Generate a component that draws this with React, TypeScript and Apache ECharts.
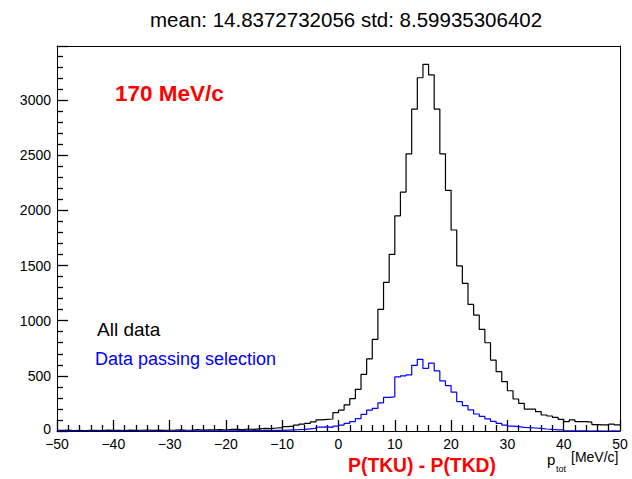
import React, { useEffect, useRef } from "react";
import * as echarts from "echarts";

// Histogram: 100 bins of 1 MeV/c from -50 to 50 (value = counts in bin starting at binStart + i)
const binStart = -50;
const binWidth = 1;

const allData: number[] = [
  // -50 .. -41
  5, 8, 3, 6, 4, 7, 5, 3, 8, 6,
  // -40 .. -31
  6, 4, 8, 5, 7, 9, 6, 8, 5, 7,
  // -30 .. -21
  8, 10, 7, 9, 12, 8, 11, 10, 13, 9,
  // -20 .. -11
  14, 16, 12, 18, 15, 20, 24, 22, 27, 30,
  // -10 .. -1
  39, 45, 54, 63, 70, 82, 100, 106, 109, 166,
  // 0 .. 9
  190, 236, 293, 378, 514, 653, 831, 1103, 1348, 1601,
  // 10 .. 19
  1951, 2166, 2513, 2918, 3202, 3324, 3229, 2918, 2513, 2182,
  // 20 .. 29
  1822, 1496, 1339, 1148, 1051, 922, 800, 643, 538, 447,
  // 30 .. 39
  365, 290, 251, 199, 199, 175, 145, 136, 124, 106,
  // 40 .. 49
  85, 100, 85, 85, 80, 58, 55, 55, 62, 55,
];

const selectedData: number[] = [
  // -50 .. -41
  0, 0, 0, 0, 0, 0, 0, 0, 0, 0,
  // -40 .. -31
  0, 0, 0, 0, 0, 0, 0, 0, 0, 0,
  // -30 .. -21
  0, 1, 0, 1, 0, 1, 1, 0, 1, 2,
  // -20 .. -11
  2, 1, 3, 2, 4, 3, 5, 4, 6, 5,
  // -10 .. -1
  8, 10, 12, 15, 20, 25, 35, 38, 32, 45,
  // 0 .. 9
  54, 70, 85, 112, 150, 190, 205, 255, 305, 310,
  // 10 .. 19
  490, 500, 508, 595, 650, 568, 615, 545, 455, 412,
  // 20 .. 29
  352, 266, 230, 192, 154, 132, 110, 88, 70, 54,
  // 30 .. 39
  45, 39, 33, 30, 27, 24, 18, 15, 10, 10,
  // 40 .. 49
  2, 1, 1, 1, 0, 1, 0, 0, 1, 0,
];

const titleText = "mean: 14.8372732056 std: 8.59935306402";
const xTitle = "P(TKU) - P(TKD)";
const energyLabel = "170 MeV/c";
const legendAll = "All data";
const legendSel = "Data passing selection";

const xMin = -50;
const xMax = 50;
const yMax = 3490;

const FONT = '"Liberation Sans", Arial, Helvetica, sans-serif';

function toSteps(values: number[]): [number, number][] {
  const pts: [number, number][] = values.map((v, i) => [binStart + i * binWidth, v]);
  pts.push([binStart + values.length * binWidth, values[values.length - 1]]);
  return pts;
}

function txt(x: number, y: number, text: string, fill: string, font: string, align = "left") {
  return {
    type: "text",
    x,
    y,
    style: { text, fill, font, align, verticalAlign: "middle", textAlign: align, textVerticalAlign: "middle" },
  };
}

export default function App() {
  const ref = useRef<HTMLDivElement>(null);

  useEffect(() => {
    if (!ref.current) return;
    const chart = echarts.init(ref.current, undefined, { renderer: "svg" });
    const fmt = (v: number) => (v < 0 ? "\u2212" + Math.abs(v) : String(v));
    const frameAxis = {
      axisLine: { show: true, onZero: false, lineStyle: { color: "#000", width: 1 } },
      axisTick: { show: false },
      axisLabel: { show: false },
      splitLine: { show: false },
    };
    chart.setOption({
      animation: false,
      backgroundColor: "#ffffff",
      title: {
        text: titleText,
        left: 145,
        top: 4,
        textStyle: { fontFamily: FONT, fontSize: 20.5, fontWeight: "normal", color: "#000" },
      },
      grid: { left: 57, right: 12, top: 46, bottom: 48 },
      xAxis: [
        {
          type: "value",
          min: xMin,
          max: xMax,
          interval: 10,
          axisLine: { show: true, onZero: false, lineStyle: { color: "#000", width: 1 } },
          axisTick: { show: true, inside: true, length: 11, lineStyle: { color: "#000000", width: 1.3, opacity: 1 } },
          minorTick: { show: true, splitNumber: 5, length: 6, lineStyle: { color: "#000000", width: 1.3, opacity: 1 } },
          splitLine: { show: false },
          axisLabel: { color: "#000", fontFamily: FONT, fontSize: 14, margin: 6, formatter: fmt },
        },
        { type: "value", min: xMin, max: xMax, position: "top", ...frameAxis },
      ],
      yAxis: [
        {
          type: "value",
          min: 0,
          max: yMax,
          interval: 500,
          axisLine: { show: true, onZero: false, lineStyle: { color: "#000", width: 1 } },
          axisTick: { show: true, inside: true, length: 11, lineStyle: { color: "#000000", width: 1.3, opacity: 1 } },
          minorTick: { show: true, splitNumber: 5, length: 6, lineStyle: { color: "#000000", width: 1.3, opacity: 1 } },
          splitLine: { show: false },
          axisLabel: {
            color: "#000",
            fontFamily: FONT,
            fontSize: 14,
            margin: 6,
            showMaxLabel: false,
            formatter: (v: number) => (v === 0 ? "{z|0}" : v % 500 === 0 ? String(v) : ""),
            rich: { z: { fontFamily: FONT, fontSize: 14, color: "#000", padding: [0, 0, 4, 0] } },
          },
        },
        { type: "value", min: 0, max: yMax, position: "right", ...frameAxis },
      ],
      series: [
        {
          type: "line",
          step: "end",
          data: toSteps(allData),
          symbol: "none",
          lineStyle: { color: "#000000", width: 1.2 },
        },
        {
          type: "line",
          step: "end",
          data: toSteps(selectedData),
          symbol: "none",
          lineStyle: { color: "#0000ff", width: 1.2 },
        },
      ],
      graphic: [
        txt(115, 93, energyLabel, "#ff0000", `bold 22.5px ${FONT}`),
        txt(97, 329, legendAll, "#000000", `19px ${FONT}`),
        txt(95, 359, legendSel, "#0000ff", `18px ${FONT}`),
        txt(422, 465, xTitle, "#ff0000", `bold 19.3px ${FONT}`, "center"),
        txt(547, 459, "p", "#000000", `15px ${FONT}`),
        txt(556, 469, "tot", "#000000", `9px ${FONT}`),
        txt(571, 457, "[MeV/c]", "#000000", `14px ${FONT}`),
      ],
    });
    return () => chart.dispose();
  }, []);

  return <div ref={ref} style={{ width: 632, height: 479, position: "absolute", left: 0, top: 0 }} />;
}
